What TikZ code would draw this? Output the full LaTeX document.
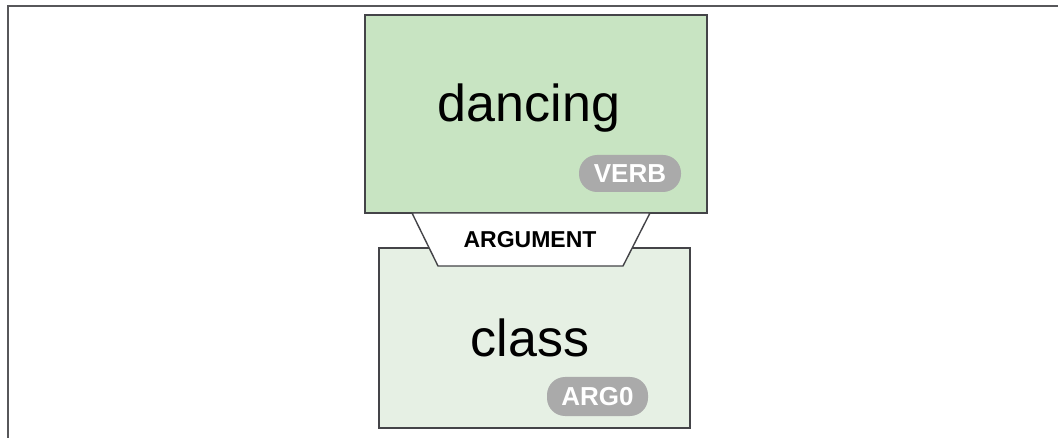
\documentclass[tikz,border=0pt]{standalone}
\usepackage{fontspec}
\setmainfont{Liberation Sans}
\usepackage{xcolor}
\usetikzlibrary{positioning,calc}

\definecolor{verbgreen}{RGB}{200,228,194}
\definecolor{arggreen}{RGB}{230,240,228}
\definecolor{pillgray}{RGB}{170,170,170}
\definecolor{edgegray}{RGB}{68,68,72}

\begin{document}
\begin{tikzpicture}[
    x=1pt, y=-1pt,
    wordbox/.style={rectangle, draw=edgegray, line width=1.4pt, inner sep=0pt},
    word/.style={font=\fontsize{52}{60}\selectfont, anchor=base, inner sep=0pt},
    pill/.style={rectangle, rounded corners=18pt, fill=pillgray, text=white, font=\bfseries\fontsize{26}{30}\selectfont, inner sep=0pt},
    relation/.style={draw=edgegray, fill=white, line width=1.4pt, line join=round},
]
    \useasboundingbox (0,0) rectangle (1058,438);
    \draw[edgegray!90, line width=2pt] (8,438) -- (8,6.5) -- (1058,6.5);

    \node[wordbox, fill=verbgreen, minimum width=342pt, minimum height=198pt] (verb) at (536,114) {};
    \node[wordbox, fill=arggreen, minimum width=311pt, minimum height=180pt] (arg) at (534.5,338) {};

    % link between the two boxes
    \coordinate (tl) at (412,213);
    \coordinate (tr) at (650,213);
    \coordinate (br) at (623,266);
    \coordinate (bl) at (438,266);
    \draw[relation] (tl) -- (tr) -- (br) -- (bl) -- cycle;

    \node[word] (dancing) at (529,122) {dancing};
    \node[word] (class) at (530,356) {class};
    \node[pill, minimum width=102pt, minimum height=37pt] (verbtag) at (630,173.5) {VERB};
    \node[pill, minimum width=101pt, minimum height=39pt] (argtag) at (597.5,396.5) {ARG0};
    \node[font=\bfseries\fontsize{23}{27}\selectfont, anchor=base, inner sep=0pt] (reltag) at (530,248) {ARGUMENT};
\end{tikzpicture}
\end{document}
